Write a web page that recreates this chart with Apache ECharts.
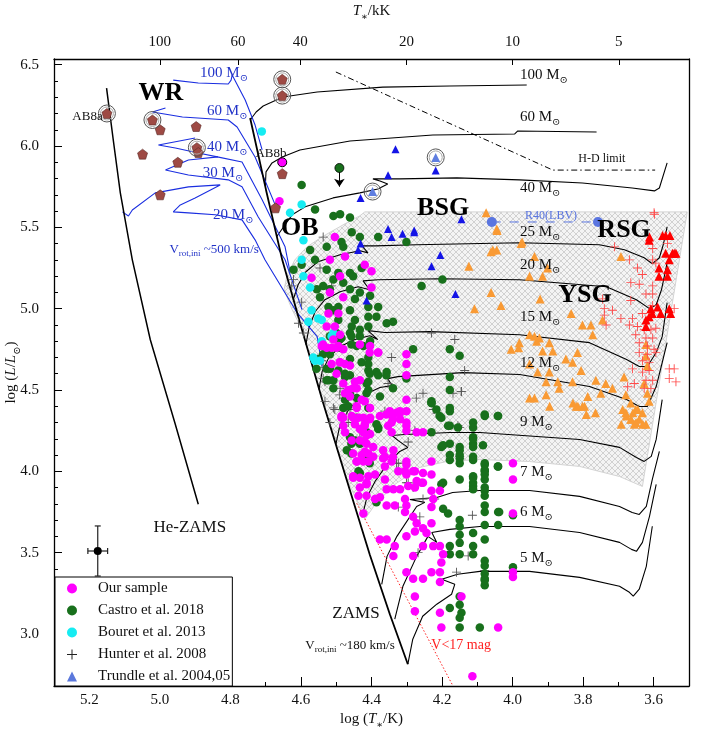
<!DOCTYPE html>
<html>
<head>
<meta charset="utf-8">
<title>HRD</title>
<script src="https://cdn.jsdelivr.net/npm/echarts@6/dist/echarts.min.js"></script>
<style>
html, body { margin: 0; padding: 0; background: #fff; }
#main { width: 708px; height: 731px; }
</style>
</head>
<body>
<div id="main"></div>
<script>
// axis ticks
var tempTicks = [3.6, 3.8, 4.0, 4.2, 4.4, 4.6, 4.8, 5.0, 5.2];
var lumTicks = [3.0, 3.5, 4.0, 4.5, 5.0, 5.5, 6.0, 6.5];
var topKK = [100, 60, 40, 20, 10, 5];

// lines: [logT, logL]
var heZams = [[5.151,6.356],[5.132,6.037],[5.112,5.712],[5.078,5.300],[5.027,4.809],[4.956,4.288],[4.891,3.797]];
var zams = [[4.744,6.172],[4.699,5.730],[4.653,5.300],[4.597,4.871],[4.540,4.441],[4.475,3.981],[4.405,3.489],[4.348,3.121],[4.297,2.814]];
var hdLimit = [[4.501,6.455],[3.886,5.852],[3.596,5.852]];
var magLimit = [[4.442,3.803],[4.169,2.68]];
var r40 = [[4.059,5.533],[3.758,5.533]];

var track100 = [[4.744,6.160],[4.727,6.209],[4.707,6.246],[4.651,6.301],[4.554,6.332],[4.368,6.362],[4.178,6.369],[3.960,6.375]];
var track60 = [[4.701,5.755],[4.699,5.841],[4.682,5.896],[4.653,5.933],[4.603,5.976],[4.461,6.031],[4.226,6.068],[3.994,6.074],[3.986,6.092],[3.762,6.086]];
var track40 = [[4.669,5.442],[4.645,5.516],[4.625,5.577],[4.588,5.626],[4.509,5.681],[4.433,5.712],[4.382,5.736],[4.354,5.767],[4.376,5.785],[4.396,5.798],[4.320,5.798],[4.158,5.804],[3.980,5.792],[3.802,5.773],[3.661,5.742],[3.598,5.724],[3.584,5.742],[3.562,5.896]];
var track25 = [[4.622,5.055],[4.608,5.147],[4.586,5.227],[4.552,5.288],[4.489,5.331],[4.433,5.356],[4.410,5.343],[4.427,5.386],[4.390,5.386],[4.272,5.393],[3.980,5.405],[3.754,5.393],[3.683,5.362],[3.627,5.313],[3.604,5.276],[3.584,5.313],[3.573,5.393],[3.562,5.503]];
var track20 = [[4.586,4.779],[4.577,4.883],[4.560,4.981],[4.532,5.055],[4.489,5.104],[4.438,5.135],[4.405,5.116],[4.424,5.171],[4.382,5.178],[4.207,5.184],[3.980,5.178],[3.734,5.135],[3.649,5.055],[3.612,5.000],[3.593,5.024],[3.578,5.116],[3.562,5.282]];
var track15 = [[4.549,4.503],[4.540,4.613],[4.521,4.699],[4.489,4.767],[4.447,4.810],[4.405,4.834],[4.382,4.810],[4.410,4.865],[4.362,4.853],[4.235,4.859],[3.980,4.840],[3.782,4.791],[3.677,4.687],[3.641,4.644],[3.618,4.644],[3.593,4.730],[3.576,4.828],[3.562,5.037]];
var track12 = [[4.501,4.165],[4.489,4.288],[4.461,4.392],[4.419,4.472],[4.376,4.515],[4.342,4.527],[4.354,4.570],[4.325,4.582],[4.141,4.607],[3.980,4.595],[3.782,4.521],[3.677,4.441],[3.641,4.398],[3.618,4.398],[3.593,4.521],[3.576,4.668],[3.562,4.791]];
var track9 = [[4.427,3.717],[4.413,3.840],[4.390,3.938],[4.356,4.042],[4.320,4.122],[4.297,4.147],[4.325,4.190],[4.342,4.220],[4.306,4.226],[4.178,4.239],[4.093,4.239],[3.810,4.196],[3.697,4.147],[3.649,4.085],[3.627,4.061],[3.607,4.092],[3.593,4.196],[3.576,4.441]];
var track7 = [[4.371,3.305],[4.356,3.477],[4.328,3.600],[4.272,3.784],[4.249,3.809],[4.291,3.827],[4.215,3.839],[4.170,3.870],[4.093,3.882],[3.952,3.882],[3.810,3.846],[3.697,3.784],[3.661,3.747],[3.641,3.735],[3.621,3.784],[3.604,3.950],[3.584,4.122]];
var track6 = [[4.334,3.091],[4.311,3.293],[4.272,3.477],[4.240,3.600],[4.215,3.563],[4.229,3.624],[4.178,3.643],[4.093,3.661],[3.952,3.661],[3.810,3.624],[3.697,3.563],[3.663,3.520],[3.649,3.508],[3.632,3.563],[3.612,3.723],[3.593,3.919]];
var track5 = [[4.297,2.814],[4.283,2.968],[4.255,3.109],[4.215,3.183],[4.173,3.244],[4.164,3.305],[4.201,3.336],[4.156,3.367],[4.093,3.385],[3.952,3.385],[3.810,3.348],[3.697,3.293],[3.669,3.256],[3.658,3.232],[3.641,3.275],[3.621,3.416],[3.604,3.662]];

var rot100 = [[4.710,5.976],[4.730,6.129],[4.758,6.283],[4.795,6.436],[4.798,6.405],[4.806,6.381],[4.891,6.387],[4.962,6.405]];
var rot60 = [[4.673,5.638],[4.693,5.742],[4.730,5.933],[4.781,6.117],[4.806,6.160],[4.936,6.178],[5.021,6.209],[4.984,6.234]];
var rot40 = [[4.631,5.227],[4.645,5.380],[4.710,5.669],[4.767,5.902],[4.837,5.933],[4.891,5.957],[4.956,5.988],[5.004,6.006],[4.900,6.049]];
var rot30 = [[4.597,4.994],[4.645,5.301],[4.721,5.564],[4.767,5.749],[4.806,5.792],[4.919,5.822],[4.984,5.853],[4.919,5.914],[4.835,5.933]];
var rot20 = [[4.540,4.644],[4.554,4.828],[4.611,4.975],[4.702,5.301],[4.730,5.423],[4.767,5.546],[4.843,5.577],[4.919,5.589],[4.962,5.595],[4.942,5.638],[4.900,5.681],[4.829,5.761],[4.919,5.749],[5.013,5.712],[5.078,5.607],[5.089,5.570],[5.106,5.595]];

var hatchEdge = [[4.419,5.595],[3.505,5.595],[3.632,3.907],[3.697,3.968],[3.810,4.030],[3.952,4.060],[4.093,4.073],[4.187,4.060],[4.263,4.024],[4.334,3.919],[4.390,3.796],[4.419,3.704],[4.475,3.981],[4.540,4.441],[4.597,4.871],[4.625,4.994],[4.648,5.116],[4.639,5.209],[4.617,5.301],[4.583,5.380],[4.540,5.442],[4.475,5.522],[4.433,5.571]];

// samples: [logT, logL]
var ourSample = [
[4.661,5.66],[4.504,5.44],[4.518,5.30],[4.475,5.32],[4.489,5.20],[4.419,5.27],[4.400,5.23],[4.570,5.19],[4.518,5.10],[4.480,5.07],[4.400,5.13],[4.522,4.97],[4.494,4.97],[4.527,4.89],[4.504,4.89],[4.489,4.84],[4.494,4.77],[4.541,4.77],[4.527,4.76],[4.513,4.76],[4.499,4.76],[4.480,4.75],[4.404,4.77],[4.381,4.73],[4.301,4.72],[4.513,4.66],[4.489,4.67],[4.475,4.66],[4.461,4.65],[4.301,4.66],[4.301,4.59],[4.480,4.54],[4.433,4.56],[4.442,4.51],[4.475,4.48],[4.301,4.44],[4.442,4.40],[4.419,4.43],[4.404,4.39],[4.485,4.33],[4.452,4.33],[4.423,4.33],[4.348,4.37],[4.329,4.36],[4.339,4.32],[4.353,4.28],
[4.537,4.78],[4.508,4.81],[4.490,4.67],[4.499,4.60],[4.447,4.55],[4.452,4.51],[4.466,4.50],[4.461,4.46],[4.428,4.44],[4.480,4.33],[4.442,4.39],[4.405,4.32],[4.419,4.29],[4.433,4.26],[4.475,4.24],[4.414,4.22],[4.419,4.18],[4.419,4.12],[4.442,4.06],[4.409,4.06],[4.452,3.97],[4.414,3.93],[4.358,4.35],[4.320,4.37],[4.301,4.28],[4.381,4.73],[4.405,4.73],[4.433,4.78],[4.362,4.09],[4.339,4.09],[4.362,4.03],[4.301,4.04],[4.277,4.00],[4.230,3.98],[4.258,3.93],
[4.485,4.34],[4.456,4.34],[4.437,4.33],[4.404,4.33],[4.376,4.34],[4.343,4.35],[4.319,4.32],[4.301,4.30],[4.343,4.30],[4.319,4.36],[4.301,4.37],
[4.480,4.28],[4.447,4.29],[4.419,4.28],[4.423,4.24],[4.404,4.23],[4.456,4.19],[4.433,4.19],[4.414,4.17],[4.395,4.15],[4.367,4.13],[4.338,4.13],[4.343,4.24],[4.301,4.25],[4.272,4.24],[4.254,4.24],
[4.452,4.11],[4.428,4.10],[4.409,4.11],[4.395,4.09],[4.423,4.06],[4.442,4.06],[4.367,4.08],[4.343,4.06],[4.301,4.06],[4.324,4.00],[4.305,4.00],[4.282,4.00],[4.254,3.99],[4.230,4.06],
[4.452,3.96],[4.433,3.96],[4.409,3.97],[4.414,3.92],[4.433,3.90],[4.390,3.98],[4.362,3.95],[4.357,3.89],[4.338,3.89],[4.319,3.89],[4.296,3.91],[4.301,3.98],[4.272,3.94],[4.277,3.90],[4.254,3.93],[4.230,3.88],[4.206,3.88],[4.225,3.83],[4.230,3.78],
[4.437,3.85],[4.414,3.85],[4.390,3.83],[4.376,3.84],[4.357,3.79],[4.334,3.79],[4.305,3.83],[4.301,3.79],[4.305,3.75],[4.282,3.72],[4.272,3.68],[4.254,3.65],[4.244,3.62],[4.230,3.68],
[4.423,3.74],[4.376,3.58],[4.357,3.58],[4.334,3.54],[4.301,3.60],[4.277,3.63],[4.254,3.54],[4.225,3.54],[4.206,3.54],[4.202,3.44],[4.197,3.49],
[4.338,3.48],[4.282,3.48],[4.301,3.38],[4.282,3.34],[4.254,3.34],[4.230,3.38],[4.206,3.38],[4.206,3.32],[4.277,3.23],[4.277,3.14],[4.206,3.13],[4.202,3.04],[4.145,3.23],[4.041,3.04],[4.114,2.74],
[3.999,4.05],[3.999,3.95],[3.999,3.74],[3.999,3.38],[3.999,3.35]
];
var castro = [
[4.598,5.76],[4.560,5.61],[4.508,5.57],[4.489,5.58],[4.461,5.56],[4.433,5.44],[4.381,5.44],[4.301,5.41],[4.485,5.41],[4.456,5.47],[4.480,5.38],[4.574,5.36],[4.527,5.38],[4.560,5.30],[4.621,5.24],[4.598,5.27],[4.527,5.24],[4.494,5.22],[4.461,5.22],[4.428,5.25],[4.508,5.18],[4.480,5.16],[4.452,5.20],[4.537,5.14],[4.555,5.12],[4.546,5.07],[4.518,5.12],[4.461,5.12],[4.433,5.10],[4.447,5.06],[4.404,5.08],[4.409,5.01],[4.381,5.01],[4.522,5.01],[4.494,5.01],[4.508,4.99],[4.461,4.99],[4.494,4.93],[4.447,4.93],[4.409,4.95],[4.386,4.95],[4.357,4.91],[4.339,4.92],[4.456,4.89],[4.433,4.87],[4.409,4.89],[4.499,4.85],[4.461,4.85],[4.518,4.83],[4.485,4.82],[4.433,4.83],[4.442,4.77],[4.423,4.77],[4.404,4.80],[4.537,4.72],[4.551,4.69],[4.527,4.63],[4.494,4.62],[4.461,4.59],[4.409,4.62],[4.386,4.61],[4.357,4.61],[4.522,4.56],[4.475,4.58],[4.508,4.51],[4.461,4.48],[4.442,4.45],[4.414,4.48],[4.414,4.54],[4.376,4.46],[4.230,4.43],[4.216,4.38],[4.207,4.34],[4.199,5.18],[4.258,5.14],
[4.282,4.75],[4.178,4.75],[4.150,4.71],[4.381,4.59],[4.358,4.59],[4.301,4.57],[4.178,4.58],[4.339,4.51],[4.178,4.50],[4.230,4.42],[4.178,4.39],[4.178,4.37],[4.202,4.33],[4.178,4.28],[4.155,4.27],[4.112,4.30],[4.112,4.27],[4.079,4.34],[4.042,4.34],[4.230,4.24],[4.202,4.15],[4.178,4.17],[4.150,4.15],[4.150,4.13],[4.112,4.21],[4.112,4.17],[4.112,4.09],[4.112,4.07],[4.150,4.08],[4.150,4.05],[4.178,4.07],[4.079,4.04],[4.079,4.00],[4.042,4.03],[4.381,4.26],[4.202,3.92],[4.112,3.97],[4.112,3.93],[4.112,3.91],[4.079,3.95],
[4.518,4.63],[4.508,4.56],[4.457,4.83],[4.457,4.78],[4.490,4.81],[4.490,4.76],[4.461,4.69],[4.428,4.67],[4.409,4.70],[4.409,4.66],[4.405,4.60],[4.409,4.55],[4.409,4.50],[4.518,4.72],[4.556,4.63],[4.475,4.60],[4.527,4.56],[4.475,4.44],[4.480,4.39],[4.442,4.33],[4.409,4.39],[4.461,4.21],[4.457,4.17],[4.433,4.17],[4.457,4.11],[4.414,4.10],[4.405,4.05],[4.433,3.99],
[4.466,4.40],[4.381,4.27],[4.230,4.42],[4.183,4.28],[4.079,4.35],[4.041,4.34],[4.197,4.16],[4.112,4.15],[4.178,4.10],[4.150,4.10],[4.112,4.20],[4.084,4.16],[4.079,4.05],[4.079,4.01],[4.079,3.98],[4.041,4.03],[4.112,3.96],[4.112,3.89],[4.150,3.95],[4.197,3.93],[4.079,3.90],[4.079,3.88],[4.079,3.85],[4.183,3.74],[4.197,3.77],[4.150,3.70],[4.150,3.66],[4.150,3.61],[4.150,3.56],[4.178,3.54],[4.178,3.49],[4.150,3.49],[4.112,3.62],[4.112,3.54],[4.112,3.49],[4.079,3.79],[4.079,3.75],[4.079,3.67],[4.079,3.45],[4.079,3.42],[4.079,3.37],[4.079,3.34],[4.079,3.30],[4.041,3.75],[4.041,3.67],[4.150,3.23],[4.150,3.18],[4.145,3.13],[4.150,3.10],[4.178,3.16],[4.150,3.04],[4.093,3.04],[4.386,3.81],[4.447,4.19],[4.470,4.13],[4.437,4.00],[4.386,4.29],[4.414,4.24],
[4.079,3.58],[4.079,3.33],[3.999,3.73],[3.999,3.41],[4.038,3.75]
];
var bouret = [[4.711,6.09],[4.598,5.64],[4.631,5.59],[4.593,5.42],[4.598,5.30],[4.593,5.20],[4.574,5.13],[4.570,4.99],[4.579,4.92],[4.551,4.94],[4.541,4.93],[4.508,4.85],[4.513,4.83],[4.541,4.80],[4.560,4.68],[4.546,4.68],[4.565,4.70]];
var hunter = [[4.537,5.44],[4.546,5.25],[4.513,5.14],[4.621,5.18],[4.598,5.04],[4.607,4.91],[4.593,4.85],[4.541,4.68],[4.537,4.64],[4.532,4.55],[4.489,4.51],[4.532,4.43],[4.508,4.39],[4.470,4.38],[4.518,4.30],[4.343,4.70],[4.254,4.48],[4.225,4.38],[4.230,4.85],[4.164,4.81],[4.136,4.62],[4.537,4.57],[4.490,4.47],[4.480,4.45],[4.504,4.38],[4.353,4.54],[4.273,4.45],[4.169,4.48],[4.145,4.49],[4.221,4.38],[4.362,4.37],[4.277,4.25],[4.150,4.27],[4.150,4.09],[4.296,4.18],[4.329,4.05],[4.433,4.21],[4.466,4.30],[4.296,3.93],[4.268,3.92],[4.461,4.38],[4.414,4.41],[4.324,4.05],[4.301,3.93],[4.282,3.90],[4.221,3.83],[4.254,3.83],[4.324,3.78],[4.263,3.72],[4.268,3.50],[4.126,3.48],[4.159,3.38],[4.079,3.39],[4.114,3.73],[4.146,4.49],[4.155,4.28],[4.626,5.14]];
var trundle = [[4.332,5.98],[4.218,5.85],[4.353,5.82],[4.431,5.68],[4.145,5.55],[4.353,5.49],[4.343,5.44],[4.312,5.46],[4.279,5.48],[4.279,5.47],[4.431,5.40],[4.438,5.36],[4.205,5.33],[4.230,5.26],[4.414,5.05],[4.162,5.09]];
var trundleRinged = [[4.218,5.93],[4.397,5.72]];
var ysg = [[4.075,5.59],[4.045,5.49],[4.061,5.35],[4.045,5.36],[3.976,5.40],[4.124,5.26],[3.952,5.20],[3.901,5.25],[3.915,5.20],[4.061,5.10],[3.922,5.06],[4.108,5.00],[4.033,5.02],[3.834,4.97],[3.745,4.93],[3.802,4.90],[3.778,4.90],[3.952,4.84],[3.938,4.83],[3.924,4.82],[3.932,4.80],[3.773,4.84],[3.981,4.79],[3.983,4.76],[4.004,4.75],[3.896,4.79],[3.915,4.74],[3.886,4.74],[3.849,4.69],[3.816,4.73],[3.830,4.67],[3.806,4.62],[3.952,4.66],[3.929,4.61],[3.896,4.61],[3.905,4.55],[3.872,4.55],[3.868,4.51],[3.830,4.55],[3.764,4.56],[3.736,4.54],[3.717,4.51],[3.750,4.48],[3.787,4.46],[3.820,4.40],[3.802,4.40],[3.952,4.45],[3.938,4.45],[3.905,4.47],[3.684,4.58],[3.679,4.47],[3.665,4.42],[3.651,4.38],[3.632,4.36],[3.641,4.32],[3.655,4.29],[3.622,4.29],[3.679,4.36],[3.665,4.32],[3.622,4.78],[3.622,4.71],[3.618,4.65],[3.627,4.54],[3.618,4.48],[3.613,4.43],[3.895,4.40],[3.829,4.42],[3.815,4.40],[3.796,4.40],[3.791,4.35],[3.765,4.36],[3.688,4.38],[3.678,4.34],[3.664,4.32],[3.650,4.30],[3.631,4.29],[3.692,4.29],[3.659,4.36],[3.645,4.38],[4.044,5.48],[3.973,5.41],[4.056,5.36],[3.938,5.32],[3.693,5.32]];
var rsgTri = [[3.613,5.42],[3.566,5.45],[3.554,5.45],[3.566,5.34],[3.547,5.34],[3.537,5.34],[3.556,5.30],[3.585,5.25],[3.561,5.24],[3.585,5.20],[3.561,5.20],[3.589,5.01],[3.580,4.97],[3.552,4.97],[3.556,5.00],[3.604,4.97],[3.608,5.00],[3.613,4.95],[3.622,4.93],[3.622,4.89],[3.575,5.45],[3.542,5.34],[3.612,5.44]];
var rsgPlus = [[3.599,5.59],[3.669,5.30],[3.646,5.25],[3.632,5.21],[3.603,5.30],[3.594,5.28],[3.665,5.16],[3.641,5.15],[3.603,5.14],[3.665,5.05],[3.622,5.09],[3.603,5.09],[3.740,5.00],[3.717,4.99],[3.740,4.96],[3.693,4.94],[3.660,4.94],[3.632,4.97],[3.603,5.02],[3.542,5.00],[3.669,4.90],[3.646,4.89],[3.627,4.87],[3.608,4.87],[3.594,4.88],[3.651,4.84],[3.622,4.82],[3.603,4.82],[3.641,4.79],[3.618,4.77],[3.599,4.75],[3.641,4.73],[3.618,4.72],[3.594,4.73],[3.632,4.68],[3.613,4.67],[3.660,4.63],[3.632,4.61],[3.613,4.62],[3.622,4.56],[3.603,4.56],[3.627,4.51],[3.608,4.51],[3.556,4.63],[3.542,4.63],[3.556,4.57],[3.537,4.55],[3.674,4.52],[3.655,4.54],[3.745,5.06],[3.735,4.90],[3.598,5.58],[3.561,5.40],[3.603,5.37],[3.711,5.38]];
var wrStars = [[5.150,6.20],[5.021,6.16],[4.999,6.10],[4.897,6.12],[5.049,5.95],[4.949,5.90],[4.895,5.99],[4.891,5.96],[4.999,5.70],[4.653,6.41],[4.653,6.31],[4.653,5.83],[4.672,5.62]];
var ringed = [[5.150,6.20],[5.021,6.16],[4.895,5.99],[4.653,6.41],[4.653,6.31],[4.218,5.93],[4.397,5.72]];
var ab8b = [[4.653,5.90]];
var upperLimit = [[4.491,5.865]];
var errBar = [[5.176,3.51,0.028,0.154]];

// text placed in data coords
var massNotes = [[3.979,6.437,'100'],[3.979,6.178,'60'],[3.979,5.742,'40'],[3.979,5.471,'25'],[3.979,5.268,'20'],[3.979,4.948,'15'],[3.979,4.665,'12'],[3.979,4.302,'9'],[3.979,3.995,'7'],[3.979,3.749,'6'],[3.979,3.466,'5']];
var rotNotes = [[4.886,6.449,'100'],[4.866,6.215,'60'],[4.866,5.994,'40'],[4.878,5.834,'30'],[4.849,5.576,'20']];
var bigNotes = [[4.997,6.326,'WR'],[4.603,5.496,'OB'],[4.197,5.619,'BSG'],[3.684,5.483,'RSG'],[3.795,5.083,'YSG']];

var serif = 'Liberation Serif';
var symFont = 'DejaVu Serif';
var plusPath = 'path://M4.5,0h1v4.5h4.5v1h-4.5v4.5h-1v-4.5h-4.5v-1h4.5z';
var pentaPath = 'path://M5,0L10,3.8L8.1,10L1.9,10L0,3.8Z';

function subRich(color, size) {
	return {
		n: { fontFamily: serif, fontSize: size, color: color, lineHeight: size + 6 },
		i: { fontFamily: serif, fontSize: size, fontStyle: 'italic', color: color, lineHeight: size + 6 },
		s: { fontFamily: symFont, fontSize: size - 5, color: color, lineHeight: size - 5, verticalAlign: 'bottom' }
	};
}

// crosshatch fill
var pc = document.createElement('canvas');
pc.width = 6; pc.height = 6;
var g = pc.getContext('2d');
g.fillStyle = '#f4f4f4';
g.fillRect(0, 0, 6, 6);
g.strokeStyle = '#c2c2c2';
g.lineWidth = 0.7;
g.beginPath();
g.moveTo(0, 0); g.lineTo(6, 6);
g.moveTo(6, 0); g.lineTo(0, 6);
g.stroke();
var hatchFill = { image: pc, repeat: 'repeat' };

var minorT = [];
for (var k = 36; k <= 52; k++) minorT.push(k / 10);
var minorL = [];
for (k = 27; k <= 65; k++) minorL.push(k / 10);
var topTicks = topKK.map(function (t) { return Math.log10(t * 1000); });

function lineS(data, color, width, type, z) {
	return {
		type: 'line', data: data, showSymbol: false, symbol: 'none', silent: true, z: z || 3,
		lineStyle: { color: color, width: width, type: type || 'solid' }
	};
}

function dots(name, data, symbol, size, color, extra) {
	var s = {
		name: name, type: 'scatter', data: data, symbol: symbol, symbolSize: size, z: 5,
		itemStyle: { color: color, opacity: 1 }
	};
	if (extra) Object.keys(extra).forEach(function (key) { s[key] = extra[key]; });
	return s;
}

function notes(list, fmt, label) {
	var lab = { show: true, position: 'inside', opacity: 1 };
	Object.keys(label).forEach(function (key) { lab[key] = label[key]; });
	return {
		type: 'scatter', symbolSize: 0, silent: true, z: 20, clip: false,
		itemStyle: { opacity: 1, color: 'rgba(0,0,0,0)' },
		data: list.map(function (n) { return { value: [n[0], n[1]], label: { formatter: fmt(n[2]) } }; }),
		label: lab
	};
}

var myChart = echarts.init(document.getElementById('main'));

var axisFont = { fontFamily: serif, fontSize: 15, color: '#111' };

var option = {
	animation: false,
	grid: { left: 54, right: 19, top: 59, bottom: 45, containLabel: false, outerBoundsMode: 'none' },
	legend: {
		orient: 'vertical', left: 55, top: 577,
		itemWidth: 10, itemHeight: 10, itemGap: 5,
		backgroundColor: '#fff', borderColor: '#000', borderWidth: 1,
		padding: [3, 2, 1, 12],
		textStyle: { fontFamily: serif, fontSize: 15, color: '#111', padding: [0, 0, 0, 16], lineHeight: 17 },
		data: [
			{ name: 'Our sample', icon: 'circle' },
			{ name: 'Castro et al. 2018', icon: 'circle' },
			{ name: 'Bouret et al. 2013', icon: 'circle' },
			{ name: 'Hunter et al. 2008', icon: plusPath, itemStyle: { color: '#222' } },
			{ name: 'Trundle et al. 2004,05', icon: 'triangle', itemStyle: { color: '#5b78dc' } }
		]
	},
	xAxis: [
		{
			type: 'value', position: 'bottom', inverse: true, min: 3.5, max: 5.3,
			axisLine: { lineStyle: { color: '#000', width: 1.3 } },
			axisTick: { inside: true, length: 4, customValues: minorT, lineStyle: { color: '#000' } },
			axisLabel: { show: false },
			splitLine: { show: false }
		},
		{
			type: 'value', position: 'top', inverse: true, min: 3.5, max: 5.3,
			axisLine: { lineStyle: { color: '#000', width: 1.3 } },
			axisTick: { inside: true, length: 6, customValues: topTicks, lineStyle: { color: '#000' } },
			axisLabel: Object.assign({ customValues: topTicks, margin: 9, formatter: function (v) { return String(Math.round(Math.pow(10, v) / 1000)); } }, axisFont),
			splitLine: { show: false },
			name: '{i|T}{s|∗}{n|/kK}', nameLocation: 'middle', nameGap: 37, nameMoveOverlap: false,
			nameTextStyle: { rich: subRich('#111', 15) }
		},
		{
			type: 'value', position: 'bottom', inverse: true, min: 3.5, max: 5.3,
			axisLine: { show: false },
			axisTick: { inside: true, length: 9, customValues: tempTicks, lineStyle: { color: '#000' } },
			axisLabel: Object.assign({ customValues: tempTicks, margin: 7, formatter: function (v) { return v.toFixed(1); } }, axisFont),
			splitLine: { show: false },
			name: '{n|log (}{i|T}{s|∗}{n|/K)}', nameLocation: 'middle', nameGap: 23, nameMoveOverlap: false,
			nameTextStyle: { rich: subRich('#111', 15) }
		}
	],
	yAxis: [
		{
			type: 'value', position: 'left', min: 2.68, max: 6.535,
			axisLine: { lineStyle: { color: '#000', width: 1.3 } },
			axisTick: { inside: true, length: 4, customValues: minorL, lineStyle: { color: '#000' } },
			axisLabel: { show: false },
			splitLine: { show: false }
		},
		{
			type: 'value', position: 'left', min: 2.68, max: 6.535,
			axisLine: { show: false },
			axisTick: { inside: true, length: 8, customValues: lumTicks, lineStyle: { color: '#000' } },
			axisLabel: Object.assign({ customValues: lumTicks, margin: 15, formatter: function (v) { return v.toFixed(1); } }, axisFont),
			splitLine: { show: false },
			name: '{n|log (}{i|L}{n|/}{i|L}{s|⊙}{n|)}', nameLocation: 'middle', nameGap: 32, nameRotate: 90, nameMoveOverlap: false,
			nameTextStyle: { rich: subRich('#111', 15) }
		},
		{
			type: 'value', position: 'right', min: 2.68, max: 6.535,
			axisLine: { show: true, lineStyle: { color: '#000', width: 1.3 } },
			axisTick: { show: false },
			axisLabel: { show: false },
			splitLine: { show: false }
		}
	],
	series: [
		{
			type: 'custom', silent: true, z: 1, data: [hatchEdge[0]],
			renderItem: function (params, api) {
				var pts = hatchEdge.map(function (p) { return api.coord(p); });
				return { type: 'polygon', shape: { points: pts }, style: { fill: hatchFill, stroke: '#d4d4d4', lineWidth: 1 } };
			}
		},
		lineS(track100, '#000', 1.1), lineS(track60, '#000', 1.1), lineS(track40, '#000', 1.1),
		lineS(track25, '#000', 1.1), lineS(track20, '#000', 1.1), lineS(track15, '#000', 1.1),
		lineS(track12, '#000', 1.1), lineS(track9, '#000', 1.1), lineS(track7, '#000', 1.1),
		lineS(track6, '#000', 1.1), lineS(track5, '#000', 1.1),
		lineS(rot100, '#1a2ee0', 1.1), lineS(rot60, '#1a2ee0', 1.1), lineS(rot40, '#1a2ee0', 1.1),
		lineS(rot30, '#1a2ee0', 1.1), lineS(rot20, '#1a2ee0', 1.1),
		lineS(zams, '#000', 1.8, 'solid', 4), lineS(heZams, '#000', 1.5, 'solid', 4),
		lineS(hdLimit, '#000', 1, [6, 3, 1.5, 3]),
		lineS(magLimit, '#ff2020', 1, [1.5, 2]),
		{
			type: 'line', data: r40, symbol: 'circle', symbolSize: 10, silent: true, z: 6,
			itemStyle: { color: '#5a75e0' }, lineStyle: { color: '#5a75e0', width: 1, type: [9, 9] }
		},
		dots('Hunter et al. 2008', hunter, plusPath, 9, '#555'),
		dots('Castro et al. 2018', castro, 'circle', 8.5, '#18701c'),
		dots('Bouret et al. 2013', bouret, 'circle', 8.5, '#16ecf2'),
		dots('Our sample', ourSample, 'circle', 8.5, '#ff00ff'),
		dots('Trundle et al. 2004,05', trundle, 'triangle', 8, '#1414e6'),
		dots('ysg', ysg, 'triangle', 9, '#f99a34'),
		dots('rsgPlus', rsgPlus, plusPath, 9, '#ff4a4a'),
		dots('rsgTri', rsgTri, 'triangle', 9, '#ff0000'),
		dots('wr', wrStars, pentaPath, 10, '#9e4a44', { itemStyle: { color: '#9e4a44', borderColor: '#5a2a26', borderWidth: 0.6, opacity: 1 } }),
		dots('trundleRinged', trundleRinged, 'triangle', 9, '#5f7ee0'),
		dots('ringOuter', ringed, 'circle', 17, 'transparent', { itemStyle: { color: 'rgba(0,0,0,0)', borderColor: '#555', borderWidth: 1, opacity: 1 } }),
		dots('ringInner', ringed, 'circle', 13, 'transparent', { itemStyle: { color: 'rgba(0,0,0,0)', borderColor: '#aaa', borderWidth: 1, opacity: 1 } }),
		dots('ab8b', ab8b, 'circle', 9, '#ff00ff', { itemStyle: { color: '#ff00ff', borderColor: '#000', borderWidth: 1, opacity: 1 } }),
		dots('upper', upperLimit, 'circle', 9, '#18701c', {
			itemStyle: { color: '#18701c', borderColor: '#000', borderWidth: 0.8, opacity: 1 },
			markLine: {
				silent: true, symbol: ['none', 'arrow'], symbolSize: 8, animation: false,
				lineStyle: { color: '#000', width: 1, type: 'solid' }, label: { show: false },
				data: [[{ coord: [4.491, 5.85] }, { coord: [4.491, 5.75] }]]
			}
		}),
		{
			type: 'custom', silent: true, z: 6, data: errBar,
			renderItem: function (params, api) {
				var t = api.value(0), l = api.value(1), dt = api.value(2), dl = api.value(3);
				var c = api.coord([t, l]);
				var a = api.coord([t + dt, l]), b = api.coord([t - dt, l]);
				var u = api.coord([t, l + dl]), d = api.coord([t, l - dl]);
				var st = { stroke: '#222', lineWidth: 1.2 };
				return {
					type: 'group', children: [
						{ type: 'line', shape: { x1: a[0], y1: a[1], x2: b[0], y2: b[1] }, style: st },
						{ type: 'line', shape: { x1: u[0], y1: u[1], x2: d[0], y2: d[1] }, style: st },
						{ type: 'line', shape: { x1: a[0], y1: a[1] - 3, x2: a[0], y2: a[1] + 3 }, style: st },
						{ type: 'line', shape: { x1: b[0], y1: b[1] - 3, x2: b[0], y2: b[1] + 3 }, style: st },
						{ type: 'line', shape: { x1: u[0] - 3, y1: u[1], x2: u[0] + 3, y2: u[1] }, style: st },
						{ type: 'line', shape: { x1: d[0] - 3, y1: d[1], x2: d[0] + 3, y2: d[1] }, style: st },
						{ type: 'circle', shape: { cx: c[0], cy: c[1], r: 4 }, style: { fill: '#000' } }
					]
				};
			}
		},
		notes(massNotes, function (m) { return '{n|' + m + ' M}{s|⊙}'; }, { align: 'left', verticalAlign: 'middle', rich: subRich('#111', 15) }),
		notes(rotNotes, function (m) { return '{n|' + m + ' M}{s|⊙}'; }, { align: 'left', verticalAlign: 'middle', rich: subRich('#2233c8', 15) }),
		notes(bigNotes, function (m) { return m; }, { fontFamily: serif, fontWeight: 'bold', fontSize: 26, color: '#000' }),
		notes([[4.915, 3.657, 'He-ZAMS'], [4.444, 3.128, 'ZAMS']], function (m) { return m; }, { fontFamily: serif, fontSize: 17, color: '#111' }),
		notes([[4.461, 2.931, '180']], function (m) { return '{n|V}{b|rot,ini}{n| ~' + m + ' km/s}'; }, {
			rich: { n: { fontFamily: serif, fontSize: 13, color: '#111', lineHeight: 18 }, b: { fontFamily: serif, fontSize: 9, color: '#111', lineHeight: 9, verticalAlign: 'bottom' } }
		}),
		notes([[4.846, 5.366, '500']], function (m) { return '{n|V}{b|rot,ini}{n| ~' + m + ' km/s}'; }, {
			rich: { n: { fontFamily: serif, fontSize: 13, color: '#2233c8', lineHeight: 18 }, b: { fontFamily: serif, fontSize: 9, color: '#2233c8', lineHeight: 9, verticalAlign: 'bottom' } }
		}),
		notes([[4.146, 2.931, 'V<17 mag']], function (m) { return m; }, { fontFamily: serif, fontSize: 14, color: '#ff2020' }),
		notes([[3.891, 5.569, 'R40(LBV)']], function (m) { return m; }, { fontFamily: serif, fontSize: 12, color: '#5a75e0' }),
		notes([[3.747, 5.920, 'H-D limit']], function (m) { return m; }, { fontFamily: serif, fontSize: 12, color: '#111' }),
		notes([[5.205, 6.178, 'AB8a'], [4.685, 5.951, 'AB8b']], function (m) { return m; }, { fontFamily: serif, fontSize: 13, color: '#111' })
	]
};

myChart.setOption(option);
window.addEventListener('resize', function () {
	myChart.resize();
});
</script>
</body>
</html>
